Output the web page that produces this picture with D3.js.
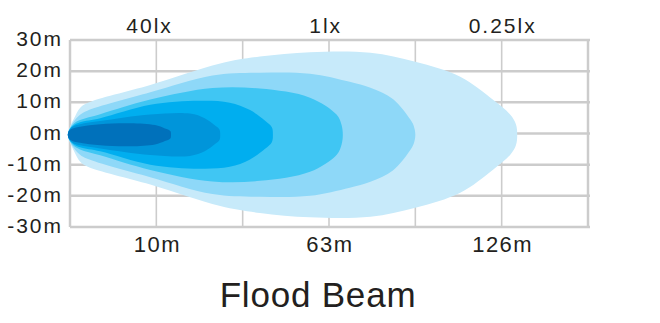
<!DOCTYPE html>
<html>
<head>
<meta charset="utf-8">
<script src="https://cdn.jsdelivr.net/npm/d3@7"></script>
<style>
  body { margin: 0; background: #fff; }
  text { font-family: "Liberation Sans", Arial, sans-serif; fill: #231f20; }
</style>
</head>
<body>
<div id="chart"></div>
<script>
// grid columns run 0..6 along the beam, metres across it
var yTicks = [30, 20, 10, 0, -10, -20, -30];
var xGrid = [0, 1, 2, 3, 4, 5, 6];
var distLabels = ["10m", "63m", "126m"];
var distPos = [1, 3, 5];
var luxLabels = ["40lx", "1lx", "0.25lx"];
var luxPos = [0.91, 2.95, 5.0];

// beam outlines, upper half as [column, half width m], drawn outer to inner
var beamAxis = -0.4;
var layerColors = ["#c7eafa", "#8ed8f8", "#40c6f3", "#00aeef", "#0095da", "#0071bb"];
var beam6 = [[-0.025,0],[0,2.6],[0.046,5.2],[0.116,8.6],[0.2,10.2],[0.93,16.0],[1.74,22.9],[2.2,25.1],[2.78,26.5],[3.48,26.3],[4.0,23.4],[4.52,18.6],[4.9,11.2],[5.1,6.4],[5.165,3.4],[5.18,0]];
var beam5 = [[-0.025,0],[0,2.3],[0.046,4.3],[0.116,6.4],[0.2,7.7],[0.93,13.6],[1.65,19],[2.2,19.9],[2.78,19.6],[3.24,17],[3.48,15.1],[3.74,11.5],[3.94,5.0],[3.98,3.0],[4.0,0]];
var beam4 = [[-0.025,0],[0,2.1],[0.046,3.6],[0.116,4.7],[0.35,6.6],[0.93,11.3],[1.65,15],[2.2,14.8],[2.78,11.9],[3.09,6.4],[3.145,3.2],[3.16,0]];
var beam3 = [[-0.025,0],[0,1.9],[0.046,3.1],[0.116,4.0],[0.35,5.3],[0.93,9.6],[1.5,10.9],[1.85,10.3],[2.08,8],[2.26,4.5],[2.338,2.4],[2.35,0]];
var beam2 = [[-0.025,0],[0,1.8],[0.046,2.8],[0.116,3.4],[0.35,4.4],[0.93,6.5],[1.39,6.8],[1.56,5.3],[1.68,3],[1.73,1.8],[1.74,0]];
var beam1 = [[-0.025,0],[0,1.6],[0.116,2.6],[0.35,3.4],[0.7,3.7],[0.985,3.1],[1.1,2],[1.162,1.2],[1.17,0]];
var beams = [beam6, beam5, beam4, beam3, beam2, beam1];

var width = 660, height = 323;

var svg = d3.select("#chart")
  .append("svg")
    .attr("width", width)
    .attr("height", height);

var x = d3.scaleLinear()
  .domain([0, 6])
  .range([70, 588]);

var y = d3.scaleLinear()
  .domain([-30, 30])
  .range([227, 40]);

// grid
svg.append("g")
  .selectAll("line")
  .data(xGrid)
  .enter()
  .append("line")
    .attr("x1", function (d) { return x(d); })
    .attr("x2", function (d) { return x(d); })
    .attr("y1", y(30))
    .attr("y2", y(-30))
    .style("stroke", "#cccccc")
    .style("stroke-width", function (d) { return (d == 0 || d == 6) ? 2.5 : 1.6; });

svg.append("g")
  .selectAll("line")
  .data(yTicks)
  .enter()
  .append("line")
    .attr("x1", x(0))
    .attr("x2", x(6) + 2)
    .attr("y1", function (d) { return y(d); })
    .attr("y2", function (d) { return y(d); })
    .style("stroke", "#cccccc")
    .style("stroke-width", 2.5);

// beam layers, mirrored about the beam axis
var outline = d3.line()
  .x(function (d) { return x(d[0]); })
  .y(function (d) { return y(beamAxis + d[1]); })
  .curve(d3.curveCatmullRomClosed.alpha(0.5));

function closedShape(pts) {
  var upper = pts;
  var lower = pts.slice(1, pts.length - 1).map(function (p) { return [p[0], -p[1]]; }).reverse();
  return upper.concat(lower);
}

svg.append("g")
  .selectAll("path")
  .data(beams)
  .enter()
  .append("path")
    .attr("d", function (d) { return outline(closedShape(d)); })
    .style("fill", function (d, i) { return layerColors[i]; });

// y labels
svg.append("g")
  .selectAll("text")
  .data(yTicks)
  .enter()
  .append("text")
    .attr("x", 63)
    .attr("y", function (d) { return y(d) + 6; })
    .attr("text-anchor", "end")
    .style("font-size", "21px")
    .style("letter-spacing", "2px")
    .text(function (d) { return d + "m"; });

// lux labels on top
svg.append("g")
  .selectAll("text")
  .data(luxLabels)
  .enter()
  .append("text")
    .attr("x", function (d, i) { return x(luxPos[i]) + 1; })
    .attr("y", 33)
    .attr("text-anchor", "middle")
    .style("font-size", "21px")
    .style("letter-spacing", "2px")
    .text(function (d) { return d; });

// distance labels below
svg.append("g")
  .selectAll("text")
  .data(distLabels)
  .enter()
  .append("text")
    .attr("x", function (d, i) { return x(distPos[i]) + 1; })
    .attr("y", 252)
    .attr("text-anchor", "middle")
    .style("font-size", "22px")
    .style("letter-spacing", "1.5px")
    .text(function (d) { return d; });

svg.append("text")
  .attr("x", 318)
  .attr("y", 307)
  .attr("text-anchor", "middle")
  .style("font-size", "35px")
  .style("letter-spacing", "0.8px")
  .text("Flood Beam");
</script>
</body>
</html>
